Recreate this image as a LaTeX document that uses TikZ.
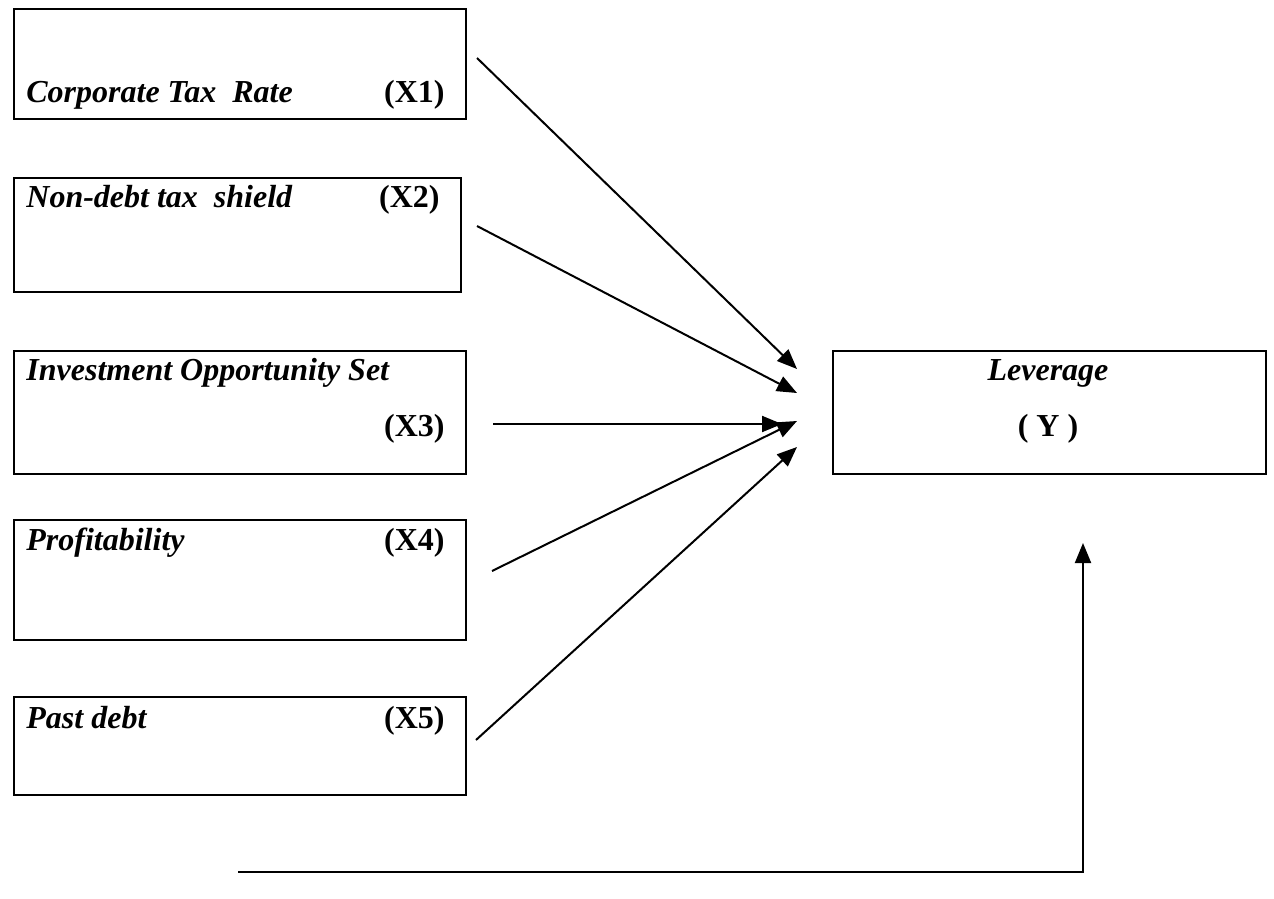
\documentclass[tikz,border=0pt]{standalone}
\usepackage{fontspec}
\setmainfont{Liberation Serif}
\usetikzlibrary{arrows.meta}
\begin{document}
\begin{tikzpicture}[x=0.5pt,y=-0.5pt,
  box/.style={draw,line width=1.1pt,inner sep=0pt,anchor=north west},
  lbl/.style={font=\fontsize{16}{19}\selectfont\bfseries\itshape,inner sep=0pt},
  tag/.style={font=\fontsize{16}{19}\selectfont\bfseries,inner sep=0pt},
  conn/.style={line width=1pt,-{Triangle[length=10pt,width=8pt]}}]
\useasboundingbox (0,0) rectangle (1274,899);
% boxes
\node[box,minimum width=226pt,minimum height=55pt] (x1) at (13,8) {};
\node[box,minimum width=223.5pt,minimum height=57pt] (x2) at (13,177) {};
\node[box,minimum width=226pt,minimum height=61.5pt] (x3) at (13,350) {};
\node[box,minimum width=226pt,minimum height=60pt] (x4) at (13,519) {};
\node[box,minimum width=226pt,minimum height=49pt] (x5) at (13,696) {};
\node[box,minimum width=216.5pt,minimum height=61.5pt] (lev) at (832,350) {};
% texts
\node[lbl,anchor=base west] (t1) at (26,103) {Corporate Tax\ \ Rate};
\node[tag,anchor=base east] (g1) at (445,103) {(X1)};
\node[lbl,anchor=base west] (t2) at (26,207) {Non-debt tax\ \ shield};
\node[tag,anchor=base east] (g2) at (440,207) {(X2)};
\node[lbl,anchor=base west] (t3) at (26,380) {Investment Opportunity Set};
\node[tag,anchor=base east] (g3) at (445,436) {(X3)};
\node[lbl,anchor=base west] (t4) at (26,550) {Profitability};
\node[tag,anchor=base east] (g4) at (445,550) {(X4)};
\node[lbl,anchor=base west] (t5) at (26,728) {Past debt};
\node[tag,anchor=base east] (g5) at (445,728) {(X5)};
\node[lbl,anchor=base] (tl) at (1048,380) {Leverage};
\node[tag,anchor=base] (gl) at (1048,436) {( Y )};
% connector end points
\coordinate (s1) at (477,58);
\coordinate (e1) at (797,369);
\coordinate (s2) at (477,226);
\coordinate (e2) at (797,393);
\coordinate (s3) at (493,424);
\coordinate (e3) at (782,424);
\coordinate (s4) at (492,571);
\coordinate (e4) at (797,421);
\coordinate (s5) at (476,740);
\coordinate (e5) at (797,447);
\coordinate (b0) at (238,872);
\coordinate (b1) at (1083,872);
\coordinate (b2) at (1083,543);
% connectors
\draw[conn] (s1) -- (e1);
\draw[conn] (s2) -- (e2);
\draw[conn] (s3) -- (e3);
\draw[conn] (s4) -- (e4);
\draw[conn] (s5) -- (e5);
\draw[conn] (b0) -- (b1) -- (b2);
\end{tikzpicture}
\end{document}
